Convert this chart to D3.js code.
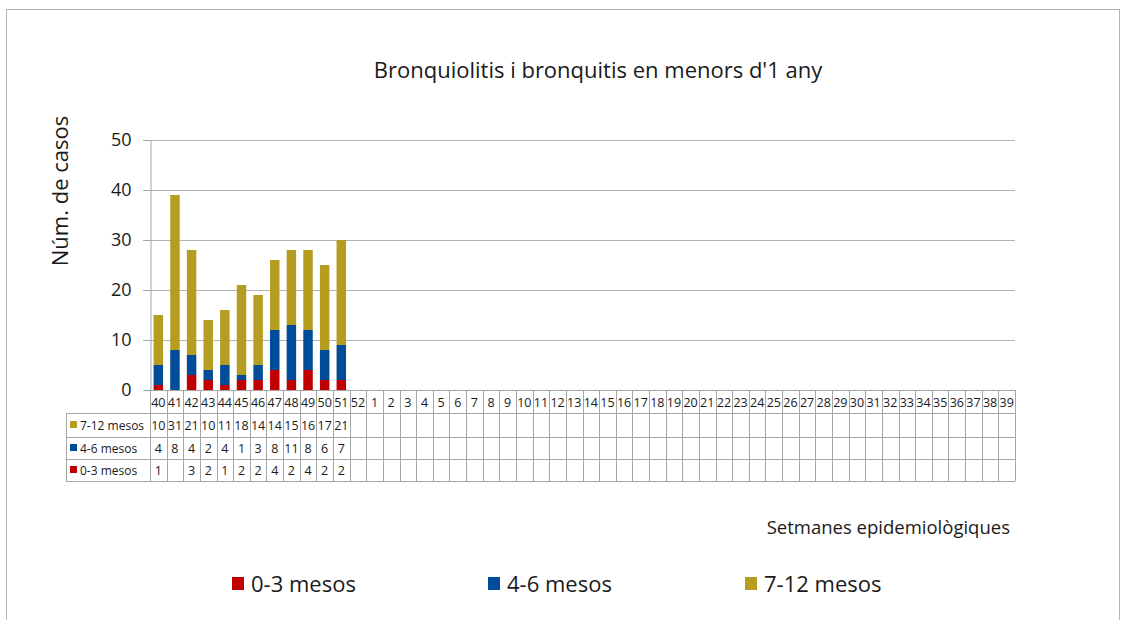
<!DOCTYPE html>
<html>
<head>
<meta charset="utf-8">
<script src="https://cdn.jsdelivr.net/npm/d3@7"></script>
<style>
  body { margin: 0; background: #fff; }
  text { font-family: "Open Sans", "Noto Sans", sans-serif; fill: #1a1a1a; }
</style>
</head>
<body>
<div id="main"></div>
<script>
// Data
const weeks = [40, 41, 42, 43, 44, 45, 46, 47, 48, 49, 50, 51, 52,
  1, 2, 3, 4, 5, 6, 7, 8, 9, 10, 11, 12, 13, 14, 15, 16, 17, 18, 19, 20,
  21, 22, 23, 24, 25, 26, 27, 28, 29, 30, 31, 32, 33, 34, 35, 36, 37, 38, 39];
const age0to3 = [1, null, 3, 2, 1, 2, 2, 4, 2, 4, 2, 2];
const age4to6 = [4, 8, 4, 2, 4, 1, 3, 8, 11, 8, 6, 7];
const age7to12 = [10, 31, 21, 10, 11, 18, 14, 14, 15, 16, 17, 21];
const yTicks = [0, 10, 20, 30, 40, 50];

const series = [
  { key: "0-3 mesos", values: age0to3, color: "#c00000" },
  { key: "4-6 mesos", values: age4to6, color: "#004c99" },
  { key: "7-12 mesos", values: age7to12, color: "#b59d22" },
];

// Layout
const width = 1126, height = 620;
const plot = { left: 150, right: 1015, top: 140, bottom: 390 };
const rowEdges = [390, 413, 437, 459, 481];
const tableLeft = 66;
const lineColor = "#a6a6a6";

const svg = d3.select("#main").append("svg")
  .attr("width", width).attr("height", height);

// Outer frame
svg.append("rect")
  .attr("x", 6.5).attr("y", 9.5)
  .attr("width", 1113).attr("height", 620)
  .attr("fill", "none").attr("stroke", "#b3b3b3");

// Title
svg.append("text")
  .attr("x", 598).attr("y", 78)
  .attr("text-anchor", "middle")
  .attr("font-size", 22)
  .text("Bronquiolitis i bronquitis en menors d'1 any");

// Scales
const x = d3.scaleBand().domain(weeks).range([plot.left, plot.right])
  .paddingInner(0.43).paddingOuter(0.215);
const y = d3.scaleLinear().domain([0, 50]).range([plot.bottom, plot.top]);

// Gridlines
svg.append("g").selectAll("line").data(yTicks.filter((d) => d > 0)).join("line")
  .attr("x1", plot.left - 7).attr("x2", plot.right)
  .attr("y1", (d) => Math.round(y(d)) + 0.5).attr("y2", (d) => Math.round(y(d)) + 0.5)
  .attr("stroke", "#b3b3b3").attr("stroke-width", 1.2);

// Y axis
const yAxis = svg.append("g")
  .attr("transform", `translate(${plot.left + 0.5},0)`)
  .call(d3.axisLeft(y).tickValues(yTicks).tickSize(7).tickPadding(12));
yAxis.select(".domain").attr("stroke", lineColor);
yAxis.selectAll(".tick line").attr("stroke", lineColor);
yAxis.selectAll(".tick text")
  .attr("font-size", 18).attr("font-family", "'Open Sans', 'Noto Sans', sans-serif")
  .attr("fill", "#1a1a1a");

svg.append("text")
  .attr("transform", "translate(68,191) rotate(-90)")
  .attr("text-anchor", "middle")
  .attr("font-size", 22)
  .text("Núm. de casos");

// Stacked bars
const stackData = weeks.slice(0, age7to12.length).map((w, i) => {
  const row = { week: w };
  series.forEach((s) => { row[s.key] = s.values[i] || 0; });
  return row;
});
const stacked = d3.stack().keys(series.map((s) => s.key))(stackData);

svg.append("g").selectAll("g").data(stacked).join("g")
  .attr("fill", (d, i) => series[i].color)
  .selectAll("rect").data((d) => d).join("rect")
  .attr("x", (d) => x(d.data.week))
  .attr("width", x.bandwidth())
  .attr("y", (d) => y(d[1]))
  .attr("height", (d) => y(d[0]) - y(d[1]));

// Data table
const table = svg.append("g");
const cellEdges = weeks.map((w) => x(w) - x.step() * x.paddingInner() / 2);
cellEdges.push(plot.right);

// horizontal lines
table.selectAll("line.h").data(rowEdges).join("line")
  .attr("class", "h")
  .attr("x1", (d, i) => (i === 0 ? plot.left : tableLeft))
  .attr("x2", plot.right)
  .attr("y1", (d) => d + 0.5).attr("y2", (d) => d + 0.5)
  .attr("stroke", lineColor);

// vertical lines
table.selectAll("line.v").data(cellEdges).join("line")
  .attr("class", "v")
  .attr("x1", (d) => Math.round(d) + 0.5).attr("x2", (d) => Math.round(d) + 0.5)
  .attr("y1", rowEdges[0]).attr("y2", rowEdges[4])
  .attr("stroke", lineColor);

table.append("line")
  .attr("x1", tableLeft + 0.5).attr("x2", tableLeft + 0.5)
  .attr("y1", rowEdges[1]).attr("y2", rowEdges[4])
  .attr("stroke", lineColor);

// week labels
table.selectAll("text.week").data(weeks).join("text")
  .attr("class", "week")
  .attr("x", (d) => x(d) + x.bandwidth() / 2)
  .attr("y", (rowEdges[0] + rowEdges[1]) / 2 + 5)
  .attr("text-anchor", "middle")
  .attr("font-size", 12.5)
  .text((d) => d);

// rows: 7-12, 4-6, 0-3
const tableRows = series.slice().reverse();
tableRows.forEach((s, r) => {
  const cy = (rowEdges[r + 1] + rowEdges[r + 2]) / 2;
  table.append("rect")
    .attr("x", tableLeft + 4).attr("y", cy - 4)
    .attr("width", 7).attr("height", 7)
    .attr("fill", s.color);
  table.append("text")
    .attr("x", tableLeft + 14).attr("y", cy + 4.5)
    .attr("font-size", 12)
    .text(s.key);
  table.selectAll(null).data(s.values).join("text")
    .attr("x", (d, i) => x(weeks[i]) + x.bandwidth() / 2)
    .attr("y", cy + 4.5)
    .attr("text-anchor", "middle")
    .attr("font-size", 12.5)
    .text((d) => (d == null ? "" : d));
});

// X title
svg.append("text")
  .attr("x", 1010).attr("y", 534)
  .attr("text-anchor", "end")
  .attr("font-size", 18.5)
  .text("Setmanes epidemiològiques");

// Legend
const legendX = [232, 488, 745];
const legend = svg.append("g").selectAll("g").data(series).join("g")
  .attr("transform", (d, i) => `translate(${legendX[i]},584)`);
legend.append("rect")
  .attr("x", 0).attr("y", -7).attr("width", 12).attr("height", 13)
  .attr("fill", (d) => d.color);
legend.append("text")
  .attr("x", 19).attr("y", 8)
  .attr("font-size", 22)
  .text((d) => d.key);
</script>
</body>
</html>
